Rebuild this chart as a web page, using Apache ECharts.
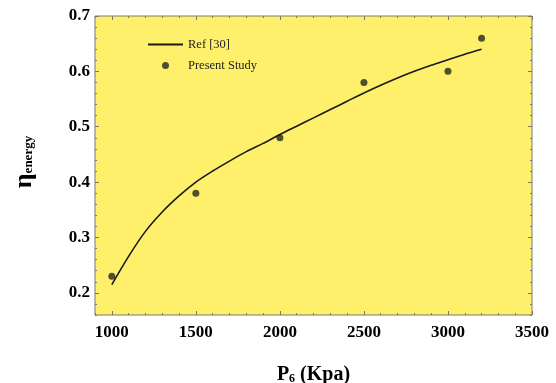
<!DOCTYPE html>
<html><head><meta charset="utf-8">
<script src="https://cdn.jsdelivr.net/npm/echarts@6/dist/echarts.min.js"></script>
<style>html,body{margin:0;padding:0;background:#fff}#c{width:556px;height:383px}</style>
</head><body><div id="c"></div>
<script>
// Data
const refX = [1000, 1100, 1200, 1300, 1400, 1500, 1600, 1700, 1800, 1900, 2000, 2100, 2200, 2300, 2400, 2500, 2600, 2700, 2800, 2900, 3000, 3100, 3200];
const refY = [0.215, 0.266, 0.311, 0.346, 0.375, 0.400, 0.420, 0.438, 0.455, 0.470, 0.486, 0.501, 0.516, 0.531, 0.546, 0.561, 0.575, 0.588, 0.600, 0.611, 0.621, 0.631, 0.640];
const studyX = [1000, 1500, 2000, 2500, 3000, 3200];
const studyY = [0.23, 0.38, 0.48, 0.58, 0.60, 0.66];
const xTickLabels = [1000, 1500, 2000, 2500, 3000, 3500];
const yTickLabels = [0.2, 0.3, 0.4, 0.5, 0.6, 0.7];

const FONT = 'Liberation Serif';
const AXC = '#7a7a6a';
const chart = echarts.init(document.getElementById('c'));

function xAx(pos, major, labels) {
  return {
    type: 'value', position: pos, min: 900, max: 3500, interval: 100,
    axisLine: { show: false },
    splitLine: { show: false },
    axisTick: major ? { show: true, inside: true, length: 4, lineStyle: { color: AXC }, customValues: xTickLabels }
                    : { show: true, inside: true, length: 2, lineStyle: { color: AXC } },
    axisLabel: labels ? { show: true, customValues: xTickLabels, margin: 9, color: '#000', fontFamily: FONT, fontWeight: 'bold', fontSize: 17, formatter: v => String(v) } : { show: false }
  };
}
function yAx(pos, major, labels) {
  return {
    type: 'value', position: pos, min: 0.16, max: 0.7, interval: 0.02,
    axisLine: { show: false },
    splitLine: { show: false },
    axisTick: major ? { show: true, inside: true, length: 4, lineStyle: { color: AXC }, customValues: yTickLabels }
                    : { show: true, inside: true, length: 2, lineStyle: { color: AXC } },
    axisLabel: labels ? { show: true, customValues: yTickLabels, margin: 5, color: '#000', fontFamily: FONT, fontWeight: 'bold', fontSize: 17, formatter: v => v.toFixed(1) } : { show: false }
  };
}

const x0 = xAx('bottom', false, true);
x0.name = '{b|P}{s|6}{b| (Kpa)}';
x0.nameLocation = 'middle';
x0.nameGap = 50;
x0.nameTextStyle = { rich: {
  b: { fontFamily: FONT, fontWeight: 'bold', fontSize: 20, color: '#000' },
  s: { fontFamily: FONT, fontWeight: 'bold', fontSize: 12, color: '#000', padding: [8, 0, 0, 0] }
}};
const y0 = yAx('left', false, true);
y0.name = '{e|η}{s|energy}';
y0.nameLocation = 'middle';
y0.nameGap = 58;
y0.nameTextStyle = { padding: [0, 0, 0, 7], rich: {
  e: { fontFamily: FONT, fontWeight: 'bold', fontSize: 26, color: '#000' },
  s: { fontFamily: FONT, fontWeight: 'bold', fontSize: 13, color: '#000', padding: [10, 0, 0, 0] }
}};

chart.setOption({
  animation: false,
  backgroundColor: '#fff',
  grid: { left: 95, top: 16, right: 24, bottom: 68, outerBoundsMode: 'none', containLabel: false, show: true, backgroundColor: '#fff06c', borderColor: AXC, borderWidth: 1 },
  legend: {
    orient: 'vertical', left: 147, top: 38, padding: 0, itemWidth: 35, itemHeight: 7, itemGap: 8,
    textStyle: { fontFamily: FONT, fontSize: 12.5, color: '#222' },
    data: [{ name: 'Ref [30]', itemStyle: { opacity: 0 } }, 'Present Study']
  },
  xAxis: [x0, xAx('bottom', true, false), xAx('top', false, false), xAx('top', true, false)],
  yAxis: [y0, yAx('left', true, false), yAx('right', false, false), yAx('right', true, false)],
  series: [
    { name: 'Ref [30]', type: 'line', xAxisIndex: 0, yAxisIndex: 0, symbol: 'none', smooth: 0.3,
      lineStyle: { color: '#1a1a1a', width: 1.6 }, itemStyle: { color: '#1a1a1a' },
      data: refX.map((x, i) => [x, refY[i]]) },
    { name: 'Present Study', type: 'scatter', xAxisIndex: 0, yAxisIndex: 0, symbol: 'circle', symbolSize: 7,
      itemStyle: { color: '#262620' },
      data: studyX.map((x, i) => [x, studyY[i]]) }
  ]
});
</script></body></html>
